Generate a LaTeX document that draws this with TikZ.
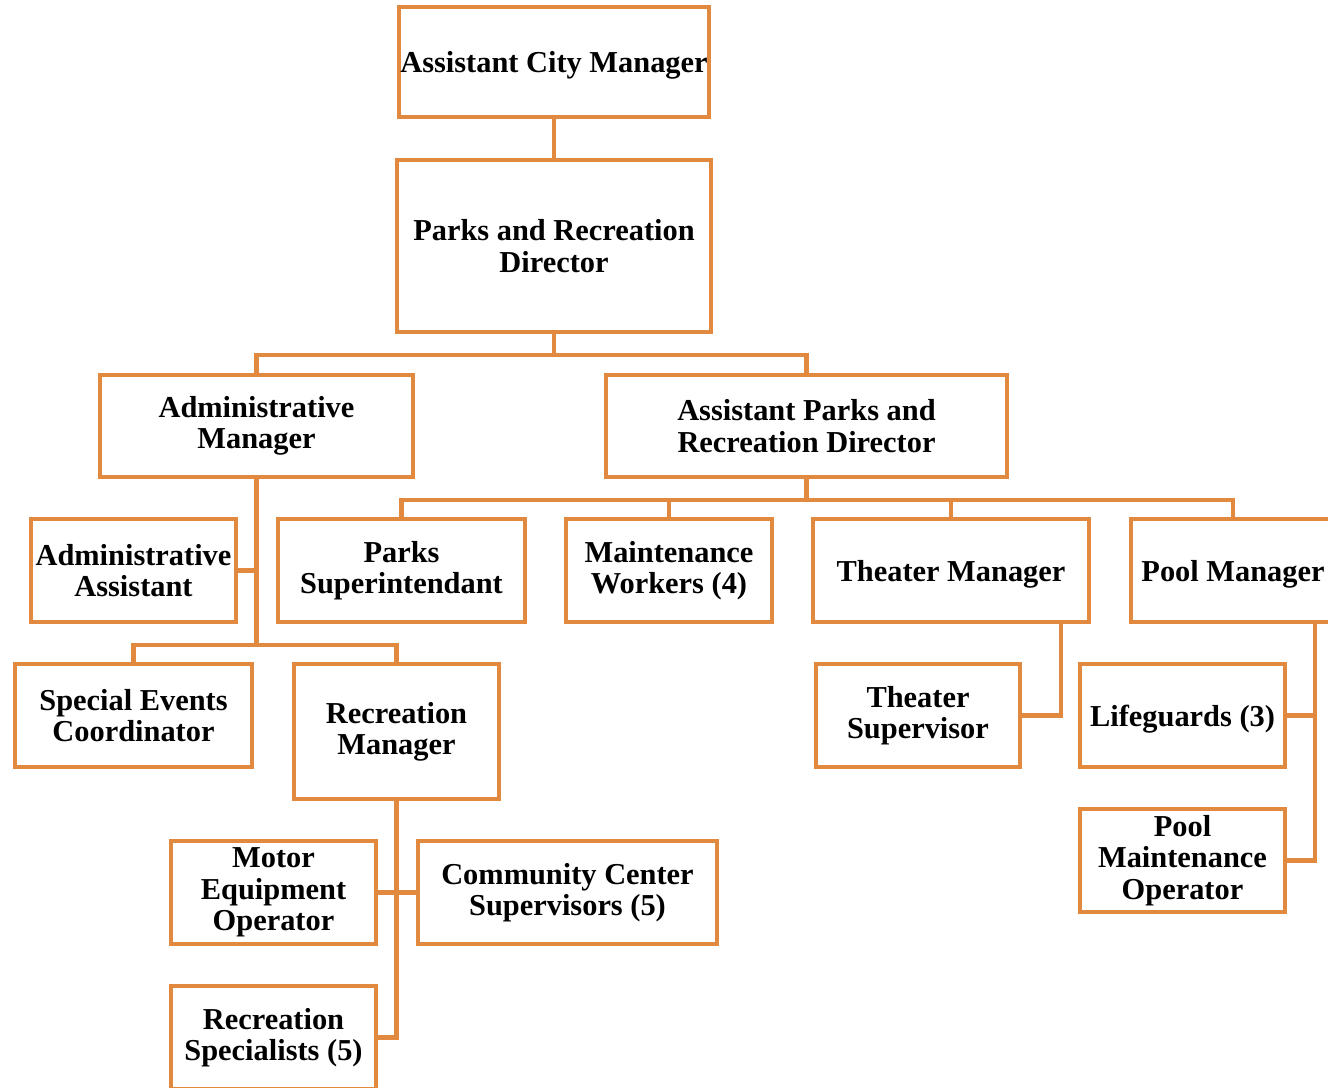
\documentclass[tikz,border=0pt]{standalone}
\usepackage{fontspec}
\setmainfont{Liberation Serif}
\usetikzlibrary{calc, positioning}

\definecolor{orgline}{RGB}{225,137,62}

\begin{document}
\begin{tikzpicture}[x=0.02cm,y=-0.02cm,every node/.style={scale=1},
  font=\fontsize{17.3}{17.8}\selectfont\bfseries]

\tikzstyle{box}=[rectangle,draw=orgline,line width=2.4pt,inner sep=0pt,align=center,minimum width=4.1cm,minimum height=2.06cm];
\tikzstyle{oneline}=[text depth=0pt];
\tikzstyle{link}=[draw=orgline,line width=2.3pt];

\useasboundingbox (0,0) rectangle (1328,1088);

% top of the chart
\node(ACM) [box,oneline,minimum width=6.2cm,minimum height=2.2cm] at (554,62) {Assistant City Manager};
\node(PRD) [box,minimum width=6.28cm,minimum height=3.44cm] at (554,246) {Parks and Recreation\\Director};
\node(ADM) [box,minimum width=6.26cm,minimum height=2.04cm] at (256.5,426) {Administrative\\Manager};
\node(APRD) [box,minimum width=8.02cm,minimum height=2.04cm] at (806.5,426) {Assistant Parks and\\Recreation Director};

% second row
\node(ADA) [box] at (133.5,570.5) {Administrative\\Assistant};
\node(PSUP) [box,minimum width=4.94cm] at (401.5,570.5) {Parks\\Superintendant};
\node(MWRK) [box,minimum width=4.12cm] at (669,570.5) {Maintenance\\Workers (4)};
\node(THM) [box,oneline,minimum width=5.52cm] at (951,570.5) {Theater Manager};
\node(POM) [box,oneline,minimum width=4.08cm] at (1233,570.5) {Pool Manager};

% third row
\node(SEC) [box,minimum width=4.74cm] at (133.5,715.5) {Special Events\\Coordinator};
\node(RCM) [box,minimum height=2.7cm] at (396.5,731.5) {Recreation\\Manager};
\node(THS) [box,minimum width=4.08cm] at (918,715.5) {Theater\\Supervisor};
\node(LGD) [box,oneline] at (1182.5,715.5) {Lifeguards (3)};
\node(PMO) [box] at (1182.5,860.5) {Pool\\Maintenance\\Operator};

% under the recreation manager
\node(MEO) [box] at (273.5,892.5) {Motor\\Equipment\\Operator};
\node(CCS) [box,minimum width=5.98cm] at (567.5,892.5) {Community Center\\Supervisors (5)};
\node(RSP) [box] at (273.5,1037.5) {Recreation\\Specialists (5)};

% connectors
\draw[link] (ACM) -- (PRD);
\draw[link] (PRD.south) -- ++(0,21) -| (ADM.north);
\draw[link] (PRD.south) -- ++(0,21) -| (APRD.north);
\draw[link] (APRD.south) -- ++(0,21) -| (PSUP.north);
\draw[link] (APRD.south) -- ++(0,21) -| (MWRK.north);
\draw[link] (APRD.south) -- ++(0,21) -| (THM.north);
\draw[link] (APRD.south) -- ++(0,21) -| (POM.north);
\draw[link] (ADM.south) -- ++(0,166) -| (SEC.north);
\draw[link] (ADM.south) -- ++(0,166) -| (RCM.north);
\draw[link] (ADA.east) -- (ADA.east -| ADM.south);
\draw[link] (RCM.south) |- (RSP.east);
\draw[link] (MEO.east) -- (CCS.west);
\draw[link] ([xshift=2.2cm]THM.south) |- (THS.east);
\draw[link] ([xshift=1.64cm]POM.south) |- (PMO.east);
\draw[link] (LGD.east) -- ++(30,0);

\end{tikzpicture}
\end{document}
